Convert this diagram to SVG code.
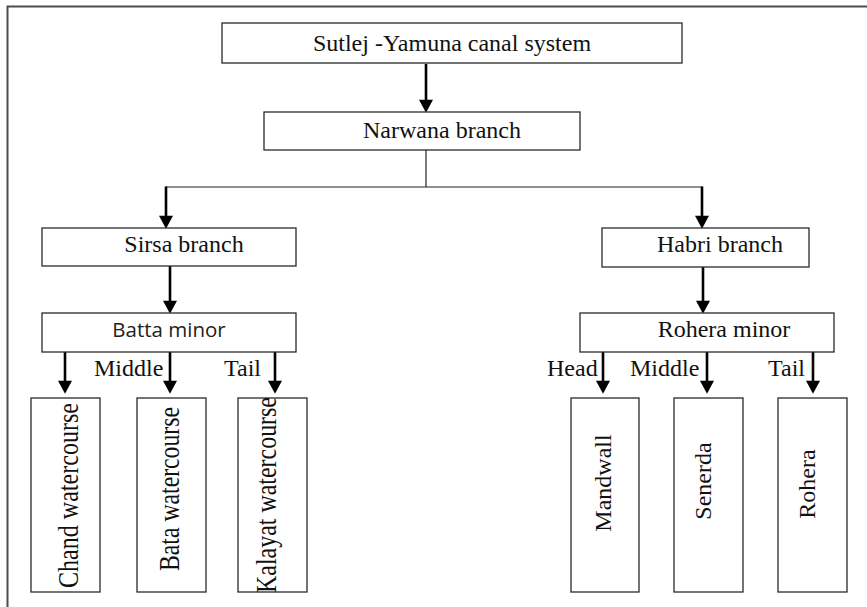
<svg xmlns="http://www.w3.org/2000/svg" width="867" height="607" viewBox="0 0 867 607">
<style>
.box{fill:#fff;stroke:#2a2a2a;stroke-width:1.3}
.t{font-family:"Liberation Serif","Times New Roman",serif;font-size:24px;fill:#111}
.tb{font-family:"Liberation Serif","Times New Roman",serif;font-size:30px;fill:#111}
.s{font-family:"Open Sans","Liberation Sans",sans-serif;font-size:20.5px;fill:#222}
.arr{stroke:#000;stroke-width:2.6;fill:none;marker-end:url(#ah)}
.thin{stroke:#222;stroke-width:1.2;fill:none}
.frame{stroke:#4d4d4d;stroke-width:2;fill:none}
</style>
<defs>
<marker id="ah" markerUnits="userSpaceOnUse" markerWidth="14" markerHeight="14" viewBox="0 0 12 13" refX="2" refY="6.5" orient="auto">
<path d="M0,0 L12,6.5 L0,13 z" fill="#000"/>
</marker>
</defs>
<path class="frame" d="M7.5,607 V6.5 H867"/>

<g id="connectors">
<line class="arr" x1="426" y1="64" x2="426" y2="102"/>
<polyline class="thin" points="426,150 426,187"/>
<polyline class="thin" points="166,187 702,187"/>
<line class="arr" x1="166" y1="186.5" x2="166" y2="218"/>
<line class="arr" x1="702" y1="186.5" x2="702" y2="218"/>
<line class="arr" x1="170" y1="266" x2="170" y2="303"/>
<line class="arr" x1="703" y1="267" x2="703" y2="303"/>
<line class="arr" x1="65" y1="352" x2="65" y2="383"/>
<line class="arr" x1="170" y1="352" x2="170" y2="383"/>
<line class="arr" x1="275" y1="352" x2="275" y2="383"/>
<line class="arr" x1="603" y1="352" x2="603" y2="383"/>
<line class="arr" x1="707" y1="352" x2="707" y2="383"/>
<line class="arr" x1="813" y1="352" x2="813" y2="383"/>
<text class="t" x="94" y="376">Middle</text>
<text class="t" x="224" y="376">Tail</text>
<text class="t" x="547" y="376">Head</text>
<text class="t" x="630" y="376">Middle</text>
<text class="t" x="768" y="376">Tail</text>
</g>

<g id="sutlej">
<rect class="box" x="222" y="23" width="460" height="40"/>
<text class="t" x="452" y="51" text-anchor="middle">Sutlej -Yamuna canal system</text>
</g>
<g id="narwana">
<rect class="box" x="264" y="112" width="316" height="38"/>
<text class="t" x="442" y="138" text-anchor="middle">Narwana branch</text>
</g>
<g id="sirsa">
<rect class="box" x="42" y="228" width="254" height="38"/>
<text class="t" x="184" y="252" text-anchor="middle">Sirsa branch</text>
</g>
<g id="habri">
<rect class="box" x="602" y="228" width="207" height="39"/>
<text class="t" x="720" y="252" text-anchor="middle">Habri branch</text>
</g>
<g id="batta">
<rect class="box" x="42" y="313" width="254" height="39"/>
<text class="s" x="169" y="337" text-anchor="middle">Batta minor</text>
</g>
<g id="rohera-minor">
<rect class="box" x="580" y="313" width="254" height="39"/>
<text class="t" x="724" y="337" text-anchor="middle">Rohera minor</text>
</g>
<g id="chand">
<rect class="box" x="31" y="398" width="69" height="194"/>
<text class="tb" transform="translate(78,495.5) rotate(-90)" text-anchor="middle" textLength="185" lengthAdjust="spacingAndGlyphs">Chand watercourse</text>
</g>
<g id="bata">
<rect class="box" x="137" y="398" width="69" height="194"/>
<text class="tb" transform="translate(179,489) rotate(-90)" text-anchor="middle" textLength="164" lengthAdjust="spacingAndGlyphs">Bata watercourse</text>
</g>
<g id="kalayat">
<rect class="box" x="238" y="398" width="69" height="194"/>
<text class="tb" transform="translate(276,495) rotate(-90)" text-anchor="middle" textLength="196" lengthAdjust="spacingAndGlyphs">Kalayat watercourse</text>
</g>
<g id="mandwall">
<rect class="box" x="571" y="398" width="68" height="194"/>
<text class="t" transform="translate(611,483) rotate(-90)" text-anchor="middle">Mandwall</text>
</g>
<g id="senerda">
<rect class="box" x="674" y="398" width="69" height="194"/>
<text class="t" transform="translate(711,481) rotate(-90)" text-anchor="middle">Senerda</text>
</g>
<g id="rohera">
<rect class="box" x="778" y="398" width="69" height="194"/>
<text class="t" transform="translate(815,484) rotate(-90)" text-anchor="middle">Rohera</text>
</g>
</svg>
